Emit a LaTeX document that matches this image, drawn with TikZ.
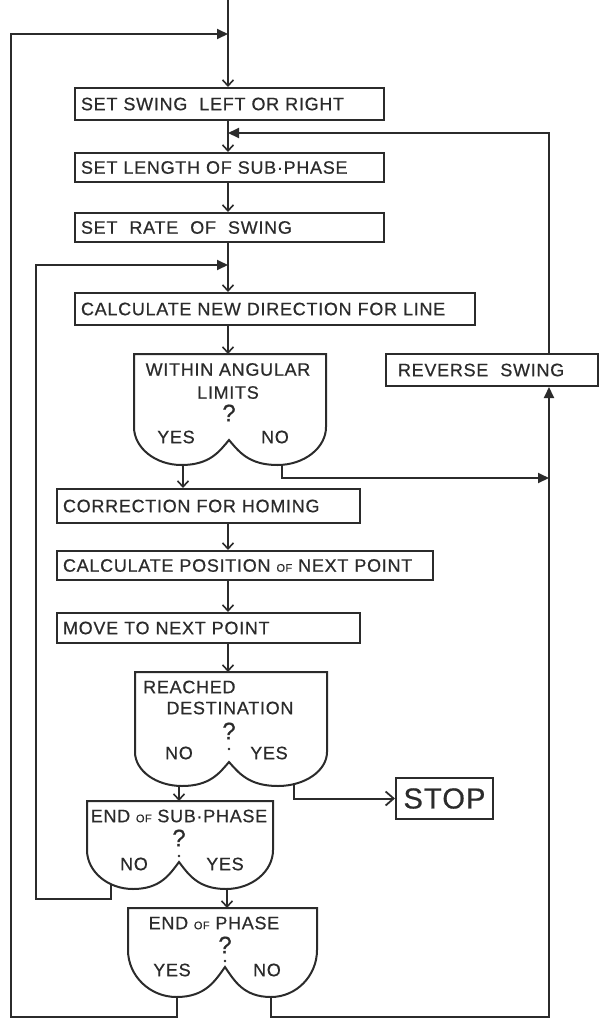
\documentclass[tikz,border=0pt]{standalone}
\usepackage{fontspec}
\setmainfont{Liberation Sans}[LetterSpace=4,FakeBold=0.6]
\usetikzlibrary{arrows.meta}
\definecolor{ink}{HTML}{2B2B2B}
\newcommand{\smof}{{\fontsize{11}{11}\selectfont OF}}
% decision outline: L R T S B C M (left, right, top, side end, lobe bottom, cusp, cusp x)
\newcommand{\decshape}[7]{%
  \draw[flow] (#1,#3) -- (#1,#4)
    .. controls (#1,{#4+0.55*(#5-#4)}) and ({#1+0.45*(#7-#1)/2},#5) .. ({(#1+#7)/2},#5)
    .. controls ({(#1+#7)/2+0.3*(#7-#1)},#5) and ({#7-0.1*(#7-#1)},{#6+0.45*(#5-#6)}) .. (#7,#6)
    .. controls ({#7+0.1*(#2-#7)},{#6+0.45*(#5-#6)}) and ({(#7+#2)/2-0.3*(#2-#7)},#5) .. ({(#7+#2)/2},#5)
    .. controls ({#2-0.45*(#2-#7)/2},#5) and (#2,{#4+0.55*(#5-#4)}) .. (#2,#4)
    -- (#2,#3) -- cycle;}
\tikzset{
  flow/.style={draw=ink, line width=2pt},
  box/.style={flow, anchor=north west, align=left, inner xsep=6pt, inner ysep=0pt,
    text=ink, font=\fontsize{18}{18}\selectfont},
  lbl/.style={text=ink, inner sep=0pt, align=center, font=\fontsize{18}{23}\selectfont},
  qmark/.style={lbl, font=\fontsize{24}{24}\selectfont},
  entry/.style={flow, -{Straight Barb[length=6pt,width=11pt,line width=1.6pt]}},
  stopin/.style={flow, -{Straight Barb[length=8pt,width=14pt,line width=1.8pt]}},
  merge/.style={flow, -{Triangle[length=11pt,width=10pt]}},
  dot/.style={fill=ink},
}
\begin{document}
\begin{tikzpicture}[x=1pt,y=-1pt]
\useasboundingbox (0,0) rectangle (598,1021);
%% main column
\coordinate (top) at (228,0);
\coordinate (j1) at (228,34);
\coordinate (j3) at (228,133);
\coordinate (j2) at (228,265);
\node[box,text width=297pt,minimum height=32pt] (swing) at (74,87) {SET SWING\ \ LEFT OR RIGHT};
\node[box,text width=297pt,minimum height=29pt] (length) at (74,152) {SET LENGTH OF SUB·PHASE};
\node[box,text width=297pt,minimum height=29pt] (rate) at (74,212) {SET\ \ RATE\ \ OF\ \ SWING};
\node[box,text width=388pt,minimum height=32pt] (newdir) at (74,292) {CALCULATE NEW DIRECTION FOR LINE};
\node[box,text width=291pt,minimum height=34pt] (homing) at (56,488) {CORRECTION FOR HOMING};
\node[box,text width=364pt,minimum height=29pt] (position) at (56,550) {CALCULATE POSITION \smof{} NEXT POINT};
\node[box,text width=291pt,minimum height=30pt] (move) at (56,612) {MOVE TO NEXT POINT};
\node[box,text width=200pt,minimum height=32pt] (rev) at (385,353) {\ REVERSE\ \ SWING};
\node[box,align=center,text width=85pt,minimum height=41pt,font=\fontsize{29}{29}\selectfont] (stop) at (395,777) {STOP};
%% within angular limits
\decshape{134}{326}{354}{427}{465}{440}{229}
\coordinate (limtop) at (229,354);
\node[lbl] (limits) at (228,381) {WITHIN ANGULAR\\LIMITS};
\node[qmark] (limq) at (229,413) {?};
\node[lbl] (limy) at (176,437) {YES};
\node[lbl] (limn) at (275,437) {NO};
\coordinate (limyes) at (183,465);
\coordinate (limno) at (282,464);
%% reached destination
\decshape{135}{327}{672}{752}{786}{762}{229}
\coordinate (reachtop) at (229,672);
\node[lbl,anchor=west] (reach1) at (143,687) {REACHED};
\node[lbl] (reach2) at (230,708) {DESTINATION};
\node[qmark] (reachq) at (229,731) {?};
\fill[dot] (229,749) circle (1.4pt);
\node[lbl] (reachn) at (179,753) {NO};
\node[lbl] (reachy) at (269,753) {YES};
\coordinate (reachno) at (179,786);
\coordinate (reachyes) at (294,783);
%% end of sub-phase
\decshape{87}{273}{801}{850}{889}{862}{179}
\coordinate (subtop) at (179,801);
\node[lbl] (sub) at (179,816) {END \smof{} SUB·PHASE};
\node[qmark] (subq) at (179,838) {?};
\fill[dot] (179,856) circle (1.4pt);
\node[lbl] (subn) at (134,864) {NO};
\node[lbl] (suby) at (225,864) {YES};
\coordinate (subno) at (111,884);
\coordinate (subyes) at (227,889);
%% end of phase
\decshape{128}{317}{908}{950}{997}{967}{225}
\coordinate (phtop) at (227,908);
\node[lbl] (phase) at (214,923) {END \smof{} PHASE};
\node[qmark] (phq) at (225,945) {?};
\fill[dot] (225,961) circle (1.4pt);
\node[lbl] (phy) at (172,970) {YES};
\node[lbl] (phn) at (267,970) {NO};
\coordinate (phyes) at (177,997);
\coordinate (phno) at (271,997);
%% loop corners
\coordinate (outerL) at (11,1017);
\coordinate (innerL) at (36,899);
\coordinate (outerR) at (549,1017);
\coordinate (j4) at (549,478);
%% connectors
\draw[entry] (top) -- (top |- swing.north);
\draw[entry] (top |- swing.south) -- (top |- length.north);
\draw[entry] (top |- length.south) -- (top |- rate.north);
\draw[entry] (top |- rate.south) -- (top |- newdir.north);
\draw[entry] (top |- newdir.south) -- (top |- limtop);
\draw[entry] (limyes) -- (limyes |- homing.north);
\draw[entry] (top |- homing.south) -- (top |- position.north);
\draw[entry] (top |- position.south) -- (top |- move.north);
\draw[entry] (top |- move.south) -- (top |- reachtop);
\draw[entry] (reachno) -- (reachno |- subtop);
\draw[entry] (subyes) -- (subyes |- phtop);
\draw[stopin] (reachyes) |- (stop.west);
%% loops back
\draw[merge] (phyes) |- (outerL) |- (j1);
\draw[merge] (subno) |- (innerL) |- (j2);
\draw[merge] (phno) |- (outerR) -- (outerR |- rev.south);
\draw[merge] (outerR |- rev.north) |- (j3);
\draw[merge] (limno) |- (j4);
\end{tikzpicture}
\end{document}
